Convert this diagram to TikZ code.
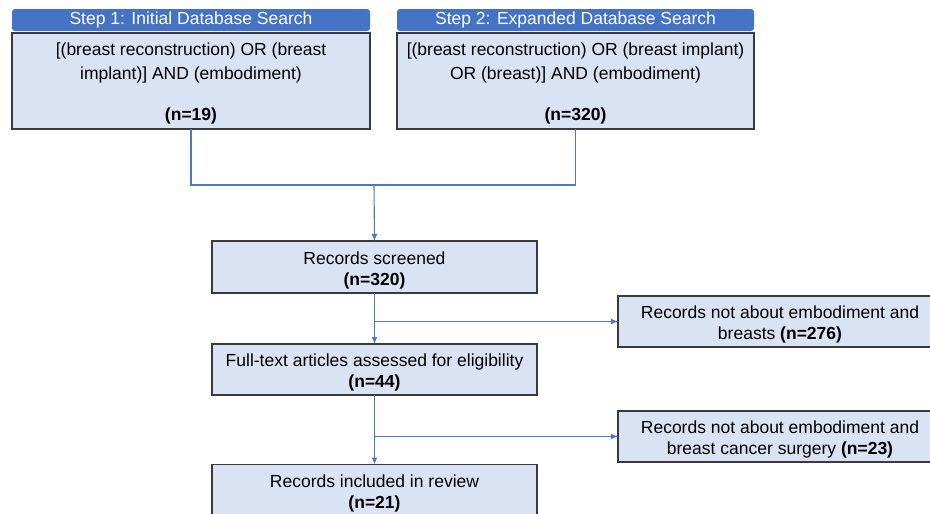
\documentclass[tikz,border=0pt]{standalone}
\usepackage{fontspec}
\setmainfont{Liberation Sans}
\usetikzlibrary{arrows.meta}
\definecolor{hdrblue}{HTML}{4472C4}
\definecolor{boxfill}{HTML}{DAE3F3}
\definecolor{boxline}{HTML}{3A3A3A}
\definecolor{lineblue}{HTML}{4A78D0}
\tikzset{
  box/.style={draw=boxline, fill=boxfill, line width=1.2pt, inner sep=0pt, outer sep=0pt},
  hdr/.style={fill=hdrblue, rounded corners=3pt, text=white, inner sep=0pt, outer sep=0pt,
    font=\fontsize{17.5}{21}\selectfont},
  txt/.style={align=center, inner sep=0pt, font=\fontsize{17.5}{21}\selectfont, text=black},
  conn/.style={draw=lineblue, line width=1.1pt},
  arr/.style={conn, -{Latex[length=7pt,width=6pt]}}
}
\begin{document}
\begin{tikzpicture}[x=1pt,y=-1pt]
\useasboundingbox (0,0) rectangle (930,514);
\clip (0,0) rectangle (930,514);
% headers
\node[hdr, minimum width=358pt, minimum height=22pt] (h1) at (191,20) {Step 1: Initial Database Search};
\node[hdr, minimum width=357pt, minimum height=22pt] (h2) at (575.5,20) {Step 2: Expanded Database Search};
% step boxes
\node[box, minimum width=358pt, minimum height=96pt] (s1) at (191,81) {};
\node[txt] (s1t) at (191,63) {[(breast reconstruction) OR (breast\\[3pt] implant)] AND (embodiment)};
\node[txt] (s1n) at (191,116) {\textbf{(n=19)}};
\node[box, minimum width=357pt, minimum height=96pt] (s2) at (575.5,81) {};
\node[txt] (s2t) at (575.5,63) {[(breast reconstruction) OR (breast implant)\\[3pt] OR (breast)] AND (embodiment)};
\node[txt] (s2n) at (575.5,116) {\textbf{(n=320)}};
% main flow
\node[box, minimum width=325pt, minimum height=52pt] (scr) at (374.5,267) {};
\node[txt] (scrt) at (374.5,270) {Records screened\\\textbf{(n=320)}};
\node[box, minimum width=325pt, minimum height=51pt] (ft) at (374.5,369.5) {};
\node[txt] (ftt) at (374.5,372.5) {Full-text articles assessed for eligibility\\\textbf{(n=44)}};
\node[box, minimum width=325pt, minimum height=52pt] (inc) at (374.5,490.5) {};
\node[txt] (inct) at (374.5,493.5) {Records included in review\\\textbf{(n=21)}};
% exclusions
\node[box, minimum width=324pt, minimum height=51pt] (ex1) at (780,321.5) {};
\node[txt] (ex1t) at (780,324.5) {Records not about embodiment and\\breasts \textbf{(n=276)}};
\node[box, minimum width=324pt, minimum height=51pt] (ex2) at (780,436.5) {};
\node[txt] (ex2t) at (780,439.5) {Records not about embodiment and\\breast cancer surgery \textbf{(n=23)}};
% connectors
\coordinate (j1) at (374,185);
\draw[conn] (s1.south) -- (s1.south |- j1) -- (s2.south |- j1) -- (s2.south);
\draw[arr] (j1) -- (scr.north);
\draw[arr] (scr.south) -- (ft.north);
\draw[arr] (scr.south |- ex1.west) -- (ex1.west);
\draw[arr] (ft.south) -- (inc.north);
\draw[arr] (ft.south |- ex2.west) -- (ex2.west);
\end{tikzpicture}
\end{document}
